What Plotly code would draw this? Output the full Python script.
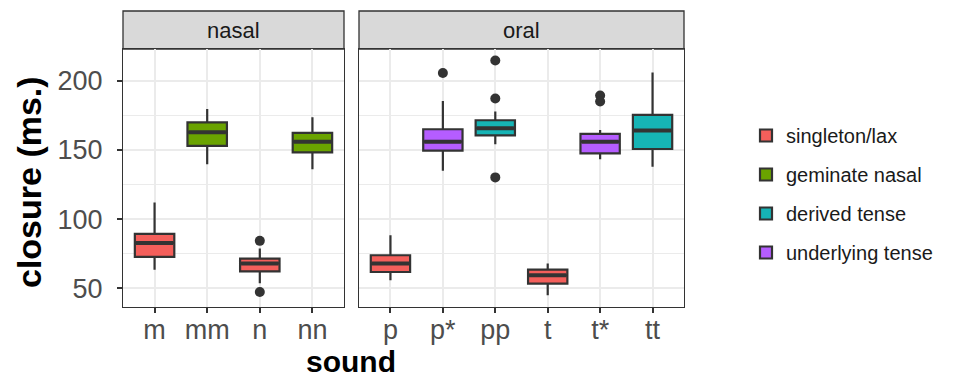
import plotly.graph_objects as go

# ---- data ----
nasal_sounds = ["m", "mm", "n", "nn"]
nasal_groups = ["singleton/lax", "geminate nasal", "singleton/lax", "geminate nasal"]
nasal_low = [63.5, 139.6, 53.6, 136.0]
nasal_q1 = [72.7, 152.9, 62.3, 148.3]
nasal_med = [82.8, 162.8, 68.0, 156.0]
nasal_q3 = [89.4, 170.0, 71.5, 162.3]
nasal_high = [112.0, 179.7, 78.8, 173.7]
nasal_out_x = ["n", "n"]
nasal_out_y = [84.3, 47.3]

oral_sounds = ["p", "p*", "pp", "t", "t*", "tt"]
oral_groups = ["singleton/lax", "underlying tense", "derived tense",
               "singleton/lax", "underlying tense", "derived tense"]
oral_low = [55.8, 135.0, 154.1, 45.0, 143.3, 137.9]
oral_q1 = [61.8, 149.5, 160.6, 53.4, 147.6, 150.7]
oral_med = [67.9, 156.0, 165.7, 59.4, 156.0, 164.0]
oral_q3 = [73.9, 165.0, 171.5, 63.5, 161.6, 175.4]
oral_high = [88.4, 185.5, 177.8, 67.9, 164.5, 206.0]
oral_out_x = ["p*", "pp", "pp", "pp", "t*", "t*"]
oral_out_y = [205.6, 214.7, 187.2, 130.2, 189.4, 185.0]

group_order = ["singleton/lax", "geminate nasal", "derived tense", "underlying tense"]
group_colors = ["#F45F5B", "#6AA300", "#16B4B5", "#B55DFF"]

y_ticks = [50, 100, 150, 200]
y_range = [36.5, 223]

# ---- style ----
EDGE = "#333333"
GRID = "#EBEBEB"
BOX_W = 0.75
FONT = "Liberation Sans, Arial, sans-serif"
color_of = dict(zip(group_order, group_colors))

# the page body has an 8px default margin; work in window pixels and compensate
OFF = 8
WIN_W, WIN_H = 958, 381
W, H = WIN_W - OFF, WIN_H - OFF

fig = go.Figure()
shown = set()

panels = [
    ("x", "y", nasal_sounds, nasal_groups, nasal_low, nasal_q1, nasal_med, nasal_q3, nasal_high,
     nasal_out_x, nasal_out_y),
    ("x2", "y2", oral_sounds, oral_groups, oral_low, oral_q1, oral_med, oral_q3, oral_high,
     oral_out_x, oral_out_y),
]

for xa, ya, sounds, groups, lo, q1, md, q3, hi, ox, oy in panels:
    for i, s in enumerate(sounds):
        g = groups[i]
        show = g not in shown
        shown.add(g)
        fig.add_trace(go.Box(
            x=[i], lowerfence=[lo[i]], q1=[q1[i]], median=[md[i]], q3=[q3[i]],
            upperfence=[hi[i]], width=BOX_W, whiskerwidth=0,
            fillcolor=color_of[g], line=dict(color=EDGE, width=2.2),
            name=g, legendgroup=g, showlegend=show,
            legendrank=group_order.index(g) + 1,
            xaxis=xa, yaxis=ya, hoverinfo="skip",
        ))
        # thicker median line (ggplot fatten)
        fig.add_trace(go.Scatter(
            x=[i - BOX_W / 2 + 0.02, i + BOX_W / 2 - 0.02], y=[md[i], md[i]],
            mode="lines", line=dict(color=EDGE, width=4),
            showlegend=False, hoverinfo="skip", xaxis=xa, yaxis=ya,
        ))
    fig.add_trace(go.Scatter(
        x=[sounds.index(v) for v in ox], y=oy, mode="markers",
        marker=dict(color=EDGE, size=10), showlegend=False, hoverinfo="skip",
        xaxis=xa, yaxis=ya,
    ))

# panel geometry in window pixels
P_LEFT, P_RIGHT, P_TOP, P_BOT = 123, 684, 49, 307
L = P_LEFT - OFF
T = P_TOP - OFF
R = WIN_W - P_RIGHT
B = WIN_H - P_BOT
pw = P_RIGHT - P_LEFT
ph = P_BOT - P_TOP
d1 = [0, (344 - P_LEFT) / pw]
d2 = [(359 - P_LEFT) / pw, 1]


def px_x(x):
    return (x - P_LEFT) / pw


def px_y(y):
    return (P_BOT - y) / ph


common_x = dict(
    showgrid=True, gridcolor=GRID, gridwidth=1.8, zeroline=False,
    showline=True, mirror=True, linecolor=EDGE, linewidth=1.3,
    ticks="outside", ticklen=5, tickwidth=1.6, tickcolor=EDGE, ticklabelstandoff=-7,
    tickfont=dict(family=FONT, size=27, color="#4D4D4D"),
)
fig.update_layout(
    width=W, height=H,
    margin=dict(l=L, r=R, t=T, b=B, pad=0, autoexpand=False),
    paper_bgcolor="white", plot_bgcolor="white",
    boxmode="overlay",
    xaxis=dict(domain=d1, range=[-0.6, len(nasal_sounds) - 0.4],
               tickvals=list(range(len(nasal_sounds))), ticktext=nasal_sounds, **common_x),
    xaxis2=dict(domain=d2, range=[-0.6, len(oral_sounds) - 0.4],
                tickvals=list(range(len(oral_sounds))), ticktext=oral_sounds, **common_x),
    yaxis=dict(range=y_range, tickvals=y_ticks, showgrid=True, gridcolor=GRID, gridwidth=1.8,
               zeroline=False, showline=True, mirror=True, linecolor=EDGE, linewidth=1.3,
               ticks="outside", ticklen=5, tickwidth=1.6, tickcolor=EDGE, ticklabelstandoff=9,
               tickfont=dict(family=FONT, size=27, color="#4D4D4D"),
               minor=dict(dtick=25, tick0=25, showgrid=True, gridcolor=GRID, gridwidth=1)),
    yaxis2=dict(anchor="x2", matches="y", range=y_range, tickvals=y_ticks, showticklabels=False,
                showgrid=True, gridcolor=GRID, gridwidth=1.8, zeroline=False,
                showline=True, mirror=True, linecolor=EDGE, linewidth=1.3, ticks="",
                minor=dict(dtick=25, tick0=25, showgrid=True, gridcolor=GRID, gridwidth=1)),
    legend=dict(x=px_x(746), y=px_y(116), xanchor="left", yanchor="top",
                font=dict(family=FONT, size=20, color="#1A1A1A"), tracegroupgap=10,
                bgcolor="rgba(0,0,0,0)"),
    showlegend=True,
)

strip_h = 38 / ph
for dom, label in [(d1, "nasal"), (d2, "oral")]:
    fig.add_shape(type="rect", xref="paper", yref="paper", x0=dom[0], x1=dom[1],
                  y0=1, y1=1 + strip_h, fillcolor="#D9D9D9", line=dict(color=EDGE, width=1.3),
                  layer="below")
    fig.add_annotation(xref="paper", yref="paper", x=(dom[0] + dom[1]) / 2, y=1 + strip_h / 2,
                       text=label, showarrow=False, xanchor="center", yanchor="middle",
                       font=dict(family=FONT, size=22, color="#1A1A1A"))

fig.add_annotation(xref="paper", yref="paper", x=px_x(351), y=px_y(361),
                   text="<b>sound</b>", showarrow=False, xanchor="center", yanchor="middle",
                   font=dict(family=FONT, size=30, color="black"))
fig.add_annotation(xref="paper", yref="paper", x=px_x(29), y=px_y(182),
                   text="<b>closure (ms.)</b>", showarrow=False, textangle=-90,
                   xanchor="center", yanchor="middle",
                   font=dict(family=FONT, size=34, color="black"))

fig.write_html("out.html")
